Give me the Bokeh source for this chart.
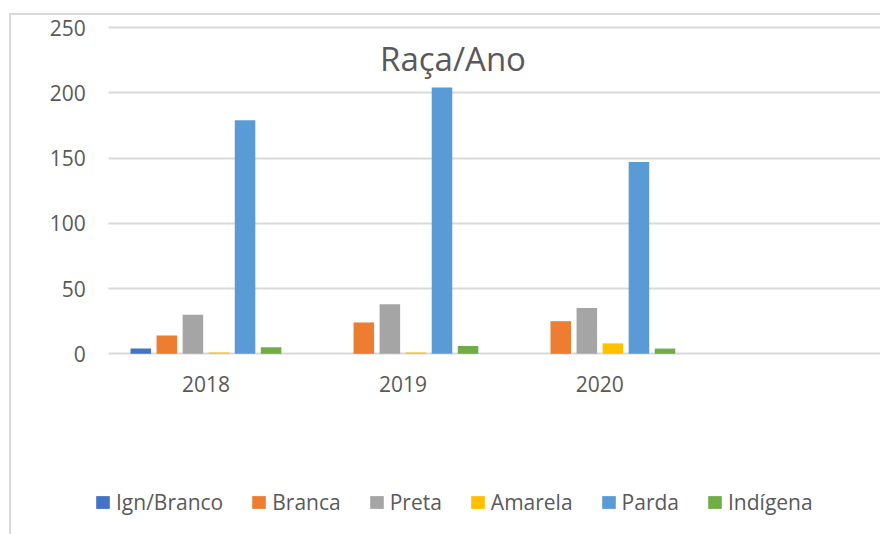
from bokeh.plotting import figure
from bokeh.models import Range1d, FixedTicker, Label, ColumnDataSource
from bokeh.embed import file_html
from bokeh.resources import INLINE

# ---- data ----
years = ["2018", "2019", "2020"]
series_names = ["Ign/Branco", "Branca", "Preta", "Amarela", "Parda", "Indígena"]
ign_branco = [4, 0, 0]
branca = [14, 24, 25]
preta = [30, 38, 35]
amarela = [1, 1, 8]
parda = [179, 204, 147]
indigena = [5, 6, 4]
y_ticks = [0, 50, 100, 150, 200, 250]

series_values = [ign_branco, branca, preta, amarela, parda, indigena]
colors = ["#4472C4", "#ED7D31", "#A5A5A5", "#FFC000", "#5B9BD5", "#70AD47"]

TEXT = "#595959"
GRID = "#d9d9d9"
FONT = "Open Sans"

# layout (page pixels; the page body has no margin)
border_left, border_top = 9, 13
canvas_left, canvas_top = border_left + 2, border_top + 2
fig_w, fig_h = 880 - canvas_left, 534 - canvas_top
plot_left, zero_px, top_px = 108, 352, 27      # plot area left, y of value 0, y of 250
px_per_unit = (zero_px - top_px) / 250
cat_px = 196.5            # width of one category
first_center_px = 205

def xdata(px):
    return (px - first_center_px) / cat_px

x_start, x_end = xdata(canvas_left), xdata(880)
y_end = (zero_px - canvas_top) / px_per_unit
y_start = -(534 - zero_px) / px_per_unit

p = figure(width=fig_w, height=fig_h, output_backend="svg", toolbar_location=None,
           x_range=Range1d(x_start, x_end), y_range=Range1d(y_start, y_end),
           min_border=0)
p.margin = (border_top, 0, 0, border_left)
p.styles = {"border-left": "2px solid #d9d9d9", "border-top": "2px solid #d9d9d9",
            "box-sizing": "content-box"}
p.outline_line_color = None
p.background_fill_color = "white"
p.border_fill_color = "white"

pitch = 26 / cat_px
bar_w = 20.5 / cat_px
n = len(series_names)
for i, (name, vals, col) in enumerate(zip(series_names, series_values, colors)):
    xs = [j + (i - (n - 1) / 2) * pitch for j in range(len(years))]
    src = ColumnDataSource(dict(x=xs, top=vals))
    p.vbar(x="x", top="top", bottom=0, width=bar_w, source=src,
           fill_color=col, line_color=None, legend_label=name)

# axes
p.xaxis.fixed_location = 0
p.xaxis.ticker = FixedTicker(ticks=list(range(len(years))))
p.xaxis.major_label_overrides = {i: y for i, y in enumerate(years)}
p.xaxis.axis_line_color = None
p.xaxis.major_tick_line_color = None
p.xaxis.minor_tick_line_color = None
p.xaxis.major_label_standoff = 16
p.xaxis.major_label_text_font = FONT
p.xaxis.major_label_text_font_size = "21px"
p.xaxis.major_label_text_color = TEXT

p.yaxis.fixed_location = xdata(plot_left)
p.yaxis.ticker = FixedTicker(ticks=y_ticks)
p.yaxis.axis_line_color = None
p.yaxis.major_tick_line_color = None
p.yaxis.minor_tick_line_color = None
p.yaxis.major_label_standoff = 17
p.yaxis.major_label_text_font = FONT
p.yaxis.major_label_text_font_size = "21px"
p.yaxis.major_label_text_color = TEXT

p.xgrid.grid_line_color = None
p.ygrid.ticker = FixedTicker(ticks=y_ticks)
p.ygrid.cross_bounds = (xdata(plot_left), x_end)
p.ygrid.grid_line_color = GRID
p.ygrid.grid_line_width = 2

# title inside plot area
p.add_layout(Label(x=xdata(451.5), y=(zero_px - 58) / px_per_unit, text="Raça/Ano",
                   text_align="center", text_baseline="alphabetic", text_font=FONT,
                   text_font_size="33px", text_color=TEXT))

# legend
lg = p.legend[0]
lg.orientation = "horizontal"
lg.location = (94 - canvas_left, 534 - 514)
lg.border_line_color = None
lg.background_fill_alpha = 0
lg.padding = 0
lg.margin = 0
lg.spacing = 27
lg.label_standoff = 5
lg.glyph_width = 17
lg.glyph_height = 16
lg.label_height = 20
lg.label_text_font = FONT
lg.label_text_font_size = "21px"
lg.label_text_color = TEXT
lg.label_text_baseline = "middle"

open("out.html", "w").write(file_html(p, INLINE))
